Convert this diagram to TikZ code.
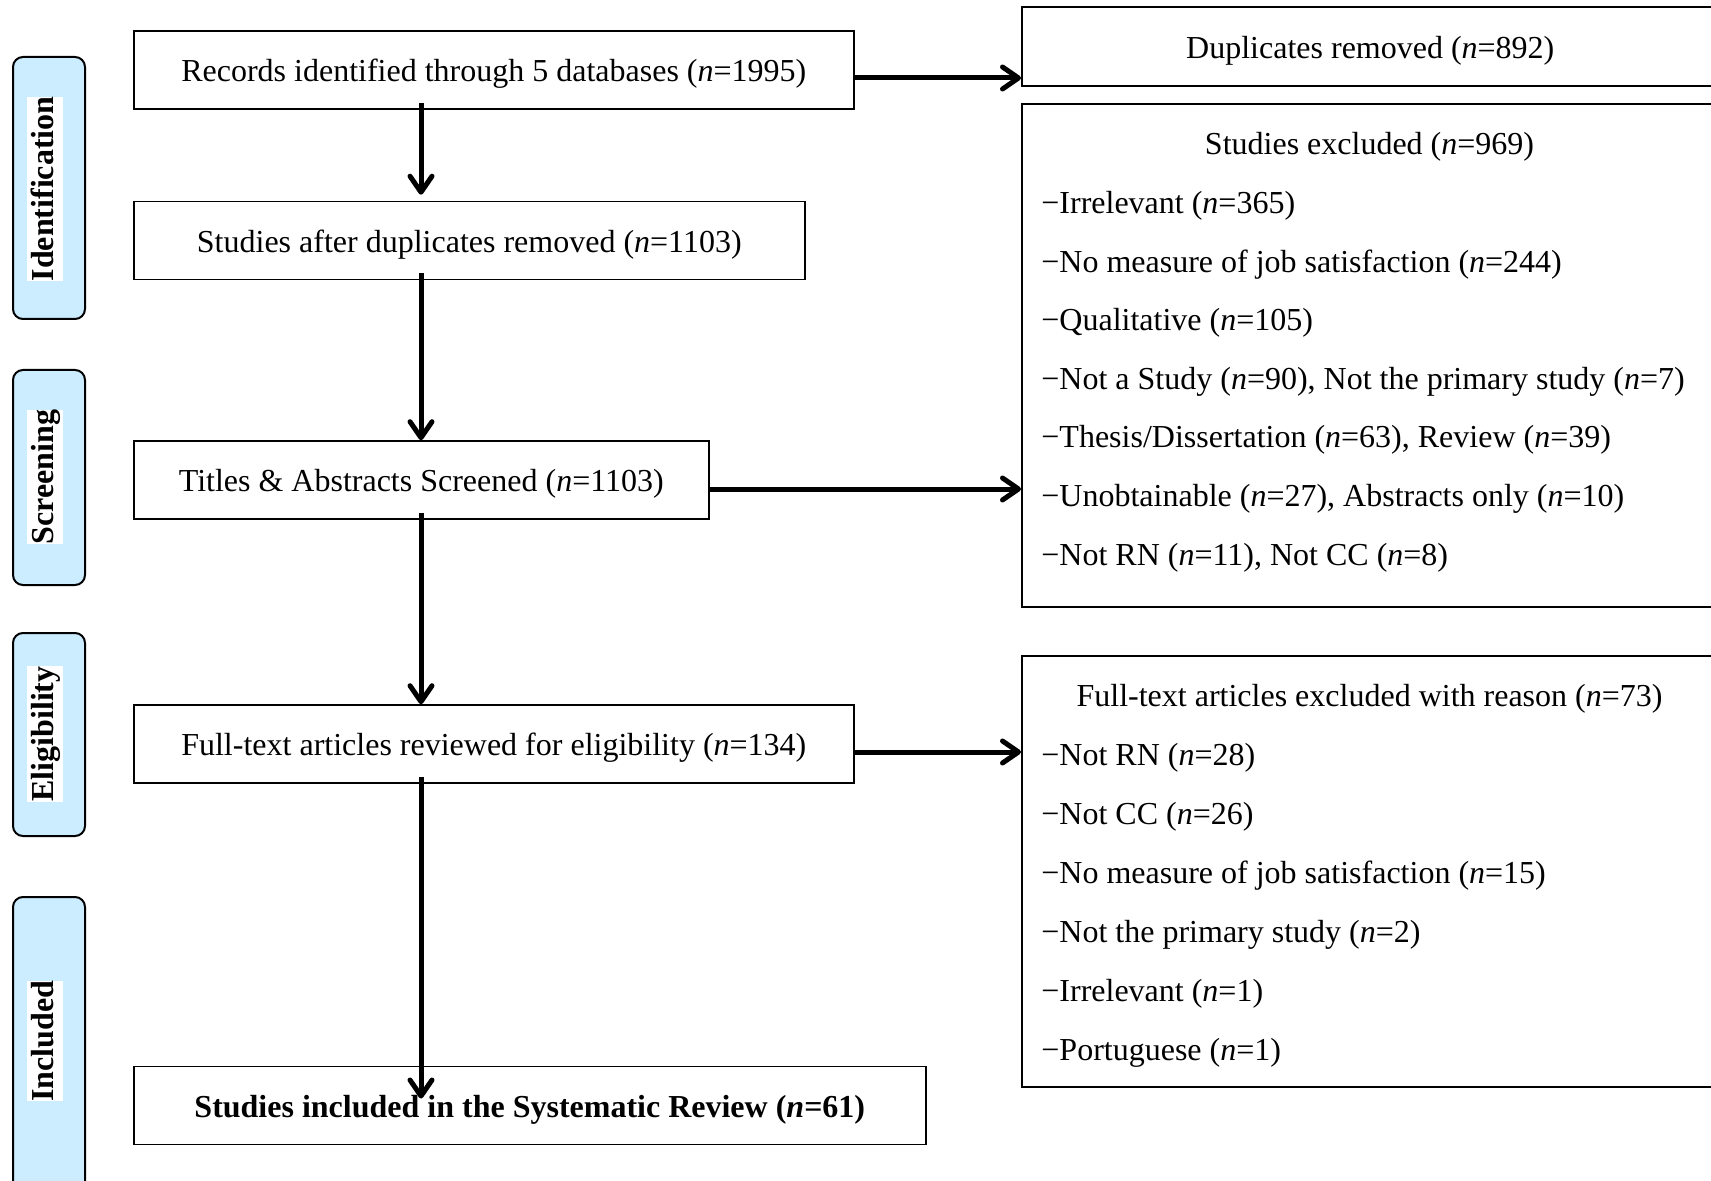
\documentclass[tikz,border=0pt]{standalone}
\usepackage{fontspec}
\setmainfont{Liberation Serif}
\usetikzlibrary{arrows.meta,positioning}
\definecolor{phaseblue}{RGB}{204,236,255}
\begin{document}
\begin{tikzpicture}[
   x=0.5pt,y=-0.5pt,
   font=\fontsize{16}{19}\selectfont,
   box/.style={draw,line width=0.8pt,inner sep=0pt,minimum height=39pt,text height=11.7pt,text depth=0pt,anchor=west},
   outbox/.style={draw,line width=0.8pt,inner sep=0pt,minimum width=348.5pt,text height=11.7pt,text depth=0pt,anchor=north west},
   item/.style={inner sep=0pt,anchor=base west},
   sidebox/.style={draw,line width=1pt,fill=phaseblue,rounded corners=5pt,minimum width=36pt,inner sep=0pt},
   phase/.style={fill=white,rotate=90,font=\fontsize{16}{19}\selectfont\bfseries,inner sep=0pt,text height=13.5pt,text depth=4.5pt},
   flow/.style={-{Straight Barb[length=8pt,width=11pt,round]},line width=2.5pt,shorten <=-3.5pt}]
\path[use as bounding box,clip] (0,0) rectangle (1711,1181);
\coordinate (spine) at (421,0);
\node[sidebox,minimum height=131pt] (identbox) at (49,188) {};
\node[sidebox,minimum height=107.5pt] (screenbox) at (49,477.5) {};
\node[sidebox,minimum height=101.5pt] (eligbox) at (49,734.5) {};
\node[sidebox,minimum height=156.5pt] (inclbox) at (49,1053.5) {};
\node[phase] (ident) at (45,189) {Identification};
\node[phase] (screen) at (45,477) {Screening};
\node[phase] (elig) at (45,734) {Eligibility};
\node[phase] (inclphase) at (45,1041) {Included};
\node[box,minimum width=360pt] (rec) at (133,70) {Records identified through 5 databases (\textit{n}=1995)};
\node[box,minimum width=335.5pt] (stud) at (133,240.5) {Studies after duplicates removed (\textit{n}=1103)};
\node[box,minimum width=287.5pt] (titl) at (133,480) {Titles \& Abstracts Screened (\textit{n}=1103)};
\node[box,minimum width=360pt] (full) at (133,744) {Full-text articles reviewed for eligibility (\textit{n}=134)};
\node[box,minimum width=396pt,font=\fontsize{16}{19}\selectfont\bfseries] (incl) at (133,1105.5) {Studies included in the Systematic Review (\textit{n}=61)};
\node[outbox,minimum height=39.25pt] (dupl) at (1021,6.5) {Duplicates removed (\textit{n}=892)};
\node[outbox,minimum height=251.5pt] (excl) at (1021,103) {};
\node[outbox,minimum height=215.5pt] (ftex) at (1021,655) {};
\node[inner sep=0pt,anchor=base] (exclhead) at (1369.5,155) {Studies excluded (\textit{n}=969)};
\node[item] (excla) at (1041,214) {−Irrelevant (\textit{n}=365)};
\node[item] (exclb) at (1041,272.5) {−No measure of job satisfaction (\textit{n}=244)};
\node[item] (exclc) at (1041,331) {−Qualitative (\textit{n}=105)};
\node[item] (excld) at (1041,389.5) {−Not a Study (\textit{n}=90), Not the primary study (\textit{n}=7)};
\node[item] (excle) at (1041,448) {−Thesis/Dissertation (\textit{n}=63), Review (\textit{n}=39)};
\node[item] (exclf) at (1041,506.5) {−Unobtainable (\textit{n}=27), Abstracts only (\textit{n}=10)};
\node[item] (exclg) at (1041,565) {−Not RN (\textit{n}=11), Not CC (\textit{n}=8)};
\node[inner sep=0pt,anchor=base] (ftexhead) at (1369.5,706) {Full-text articles excluded with reason (\textit{n}=73)};
\node[item] (ftexa) at (1041,765) {−Not RN (\textit{n}=28)};
\node[item] (ftexb) at (1041,824) {−Not CC (\textit{n}=26)};
\node[item] (ftexc) at (1041,883) {−No measure of job satisfaction (\textit{n}=15)};
\node[item] (ftexd) at (1041,942) {−Not the primary study (\textit{n}=2)};
\node[item] (ftexe) at (1041,1001) {−Irrelevant (\textit{n}=1)};
\node[item] (ftexf) at (1041,1060) {−Portuguese (\textit{n}=1)};
\draw[flow] (rec.south -| spine) -- ([yshift=3pt]stud.north -| spine);
\draw[flow] (stud.south -| spine) -- (titl.north -| spine);
\draw[flow] (titl.south -| spine) -- (full.north -| spine);
\draw[flow] (full.south -| spine) -- ([yshift=3.5pt]incl.center -| spine);
\draw[flow,shorten <=0pt] ([yshift=-4pt]rec.east) -- ([yshift=-4pt]rec.east -| dupl.west);
\draw[flow,shorten <=0pt] ([yshift=-4.5pt]titl.east) -- ([yshift=-4.5pt]titl.east -| excl.west);
\draw[flow,shorten <=0pt] ([yshift=-4pt]full.east) -- ([yshift=-4pt]full.east -| ftex.west);
\end{tikzpicture}
\end{document}
